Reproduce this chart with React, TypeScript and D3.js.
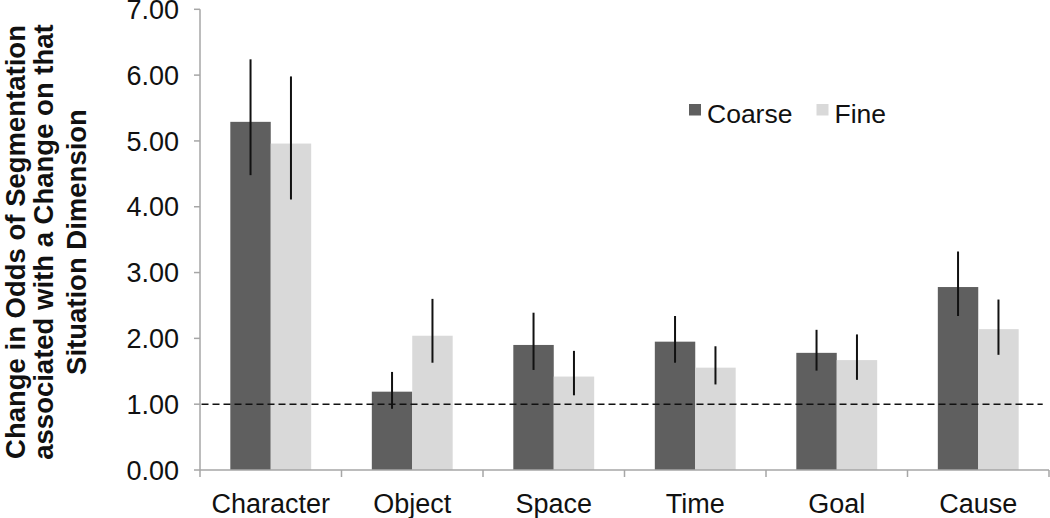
import React from "react";
import * as d3 from "d3";

const categories = ["Character", "Object", "Space", "Time", "Goal", "Cause"];
const seriesNames = ["Coarse", "Fine"];
const coarseValues = [5.29, 1.19, 1.9, 1.95, 1.78, 2.78];
const coarseLow = [4.48, 0.93, 1.52, 1.63, 1.51, 2.34];
const coarseHigh = [6.24, 1.49, 2.39, 2.34, 2.13, 3.32];
const fineValues = [4.96, 2.04, 1.42, 1.555, 1.67, 2.14];
const fineLow = [4.11, 1.63, 1.135, 1.3, 1.37, 1.75];
const fineHigh = [5.98, 2.6, 1.81, 1.88, 2.06, 2.59];
const yTicks = [0, 1, 2, 3, 4, 5, 6, 7];
const referenceValue = 1;
const yLabelLines = [
  "Change in Odds of Segmentation",
  "associated with a Change on that",
  "Situation Dimension",
];

const W = 1050;
const H = 518;
const FONT = "'Liberation Sans', Arial, Helvetica, sans-serif";
const colors = ["#5f5f5f", "#d9d9d9"];
const axisColor = "#a6a6a6";

export default function App() {
  const left = 200;
  const right = 1049;
  const top = 9.3;
  const bottom = 470;
  const y = d3.scaleLinear().domain([0, 7]).range([bottom, top]);
  const x0 = d3.scaleBand<string>().domain(categories).range([left, right]).paddingInner(0).paddingOuter(0);
  const x1 = d3
    .scaleBand<string>()
    .domain(seriesNames)
    .range([0, x0.bandwidth()])
    .paddingInner(0)
    .paddingOuter(0.75);

  const series = [
    { name: "Coarse", values: coarseValues, low: coarseLow, high: coarseHigh },
    { name: "Fine", values: fineValues, low: fineLow, high: fineHigh },
  ];

  const tickPositions = [...categories.map((c) => x0(c)!), right];
  const labelX = [25, 53, 86];

  return (
    <svg width={W} height={H} style={{ position: "absolute", left: 0, top: 0 }} fontFamily={FONT}>
      <rect width={W} height={H} fill="#fff" />
      {/* bars */}
      {series.map((s, si) =>
        categories.map((c, i) => (
          <rect
            key={s.name + c}
            x={x0(c)! + x1(s.name)!}
            y={y(s.values[i])}
            width={x1.bandwidth()}
            height={y(0) - y(s.values[i])}
            fill={colors[si]}
          />
        ))
      )}
      {/* reference line */}
      <line
        x1={left + 1.5}
        x2={1042.7}
        y1={y(referenceValue)}
        y2={y(referenceValue)}
        stroke="#111"
        strokeWidth={1.6}
        strokeDasharray="7,4"
      />
      {/* error bars */}
      {series.map((s) =>
        categories.map((c, i) => {
          const cx = x0(c)! + x1(s.name)! + x1.bandwidth() / 2;
          return (
            <line
              key={"e" + s.name + c}
              x1={cx}
              x2={cx}
              y1={y(s.high[i])}
              y2={y(s.low[i])}
              stroke="#111"
              strokeWidth={2}
            />
          );
        })
      )}
      {/* y axis */}
      <line x1={left} x2={left} y1={top} y2={bottom} stroke={axisColor} strokeWidth={1.5} />
      {yTicks.map((t) => (
        <g key={"yt" + t}>
          <line x1={left - 6} x2={left} y1={y(t)} y2={y(t)} stroke={axisColor} strokeWidth={1.5} />
          <text x={179} y={y(t)} dy="0.36em" textAnchor="end" fontSize={27} fill="#111">
            {t.toFixed(2)}
          </text>
        </g>
      ))}
      {/* x axis */}
      <line x1={left} x2={right} y1={bottom} y2={bottom} stroke={axisColor} strokeWidth={1.5} />
      {tickPositions.map((p, i) => (
        <line key={"xt" + i} x1={p} x2={p} y1={bottom} y2={bottom + 7} stroke={axisColor} strokeWidth={1.5} />
      ))}
      {categories.map((c) => (
        <text key={"xl" + c} x={x0(c)! + x0.bandwidth() / 2} y={513} textAnchor="middle" fontSize={27} fill="#111">
          {c}
        </text>
      ))}
      {/* y label */}
      {yLabelLines.map((l, i) => (
        <text
          key={"yl" + i}
          transform={`translate(${labelX[i]},242) rotate(-90)`}
          textAnchor="middle"
          fontSize={27.5}
          fontWeight="bold"
          fill="#111"
        >
          {l}
        </text>
      ))}
      {/* legend */}
      {seriesNames.map((n, i) => {
        const lx = [689, 816.5][i];
        return (
          <g key={"lg" + n}>
            <rect x={lx} y={104} width={12} height={11.5} fill={colors[i]} />
            <text x={lx + 18} y={123} fontSize={26.5} fill="#111">
              {n}
            </text>
          </g>
        );
      })}
    </svg>
  );
}
